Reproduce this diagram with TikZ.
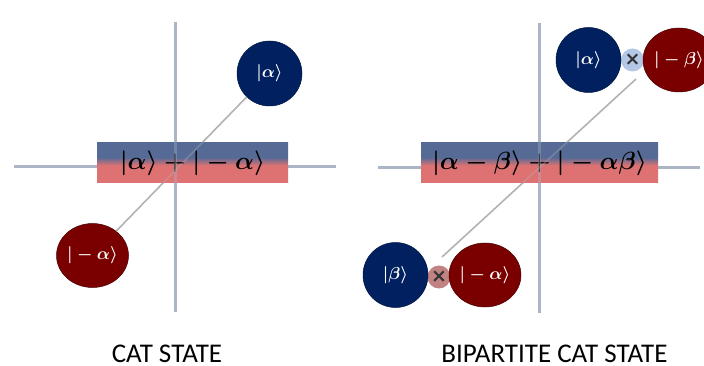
\documentclass[tikz,border=0pt]{standalone}
\usepackage{amsmath, amssymb, bm}
\usepackage{fontspec}
\usepackage{xcolor}
\usetikzlibrary{positioning, calc, shapes.geometric}
\newfontfamily\capfont{Carlito}
\newfontfamily\crossfont{DejaVu Sans}

\definecolor{axisgray}{RGB}{172,181,198}
\definecolor{ketblue}{RGB}{0,32,96}
\definecolor{ketred}{RGB}{122,0,0}
\definecolor{boxblue}{RGB}{86,106,150}
\definecolor{boxred}{RGB}{222,114,114}
\definecolor{xblue}{RGB}{180,199,231}
\definecolor{xred}{RGB}{192,130,130}
\pgfdeclareverticalshading{catshade}{100bp}{color(0bp)=(boxred); color(47bp)=(boxred); color(57bp)=(boxblue); color(100bp)=(boxblue)}

% ket in a circle: no width of its own, the shape sets the size
\newcommand{\ketin}[1]{\makebox[0pt]{$|#1\rangle$}}

\begin{document}
\begin{tikzpicture}[x=1pt,y=-1pt,
    axisline/.style={draw=axisgray, line width=3pt},
    wire/.style={draw=black!30, line width=1.6pt},
    seethrough/.style={draw opacity=0.35},
    ketA/.style={circle, fill=ketblue, draw=ketblue!70!black, line width=0.5pt,
        minimum size=65pt, inner sep=0pt, text=white,
        font=\fontsize{18}{20}\selectfont\boldmath},
    ketB/.style={ellipse, fill=ketred, draw=ketred!60!black, line width=0.5pt,
        minimum width=72pt, minimum height=64pt, inner sep=0pt, text=white,
        font=\fontsize{17}{20}\selectfont\boldmath},
    crossdot/.style={circle, minimum size=23pt, inner sep=0pt, text=black!80,
        font=\crossfont\bfseries\fontsize{19}{19}\selectfont},
    catbox/.style={rectangle, minimum height=40pt, inner sep=0pt,
        shading=catshade, font=\fontsize{23}{26}\selectfont\boldmath},
    paneltitle/.style={anchor=base, inner sep=0pt,
        font=\capfont\fontsize{27}{30}\selectfont}]

    \useasboundingbox (0,0) rectangle (704,366);

    %--------------------------------
    % 坐标轴
    %--------------------------------
    \foreach \n/\cx/\cy/\top/\bot/\lft/\rgt in {
        l/175/167/22/312/14/336,
        r/539/168/23/313/378/700}{
        \coordinate (\n N) at (\cx,\top);
        \coordinate (\n S) at (\cx,\bot);
        \coordinate (\n W) at (\lft,\cy);
        \coordinate (\n E) at (\rgt,\cy);
        \draw[axisline] (\n N) -- (\n S);
        \draw[axisline] (\n W) -- (\n E);
    }

    %--------------------------------
    % CAT STATE
    %--------------------------------
    \node[ketA] (pa) at (269.5,73.5) {\ketin{\alpha}};
    \node[ketB] (ma) at (92.5,255.5) {\ketin{-\alpha}};

    \draw[wire] (ma) -- (pa);

    \node[catbox, minimum width=191pt] (cat) at (192.5,163)
        {$|\alpha\rangle+|-\alpha\rangle$};

    % 透过色条可见的轴和连线
    \begin{scope}
        \clip (cat.south west) rectangle (cat.north east);
        \draw[axisline, seethrough] (lN) -- (lS);
        \draw[wire, seethrough] (ma) -- (pa);
    \end{scope}

    %--------------------------------
    % BIPARTITE CAT STATE
    %--------------------------------
    \node[crossdot, fill=xblue] (xt) at (632.5,60) {×};
    \node[crossdot, fill=xred] (xb) at (439,277) {×};

    \node[ketA] (pa2) at (588.5,60) {\ketin{\alpha}};
    \node[ketB] (mb) at (679,60) {\ketin{-\beta}};
    \node[ketA] (pb) at (395.5,275) {\ketin{\beta}};
    \node[ketB] (ma2) at (485,275) {\ketin{-\alpha}};

    \draw[wire] ([shift={(3,-20)}]xb.center) -- ([shift={(3.5,19)}]xt.center);

    \node[catbox, minimum width=237pt] (bicat) at (539.5,163)
        {$|\alpha-\beta\rangle+|-\alpha\beta\rangle$};

    \begin{scope}
        \clip (bicat.south west) rectangle (bicat.north east);
        \draw[axisline, seethrough] (rN) -- (rS);
        \draw[wire, seethrough] ([shift={(3,-20)}]xb.center) -- ([shift={(3.5,19)}]xt.center);
    \end{scope}

    %--------------------------------
    % 标题
    %--------------------------------
    \node[paneltitle] (capL) at (167,362) {CAT STATE};
    \node[paneltitle] (capR) at (554.5,362) {BIPARTITE CAT STATE};

\end{tikzpicture}
\end{document}
